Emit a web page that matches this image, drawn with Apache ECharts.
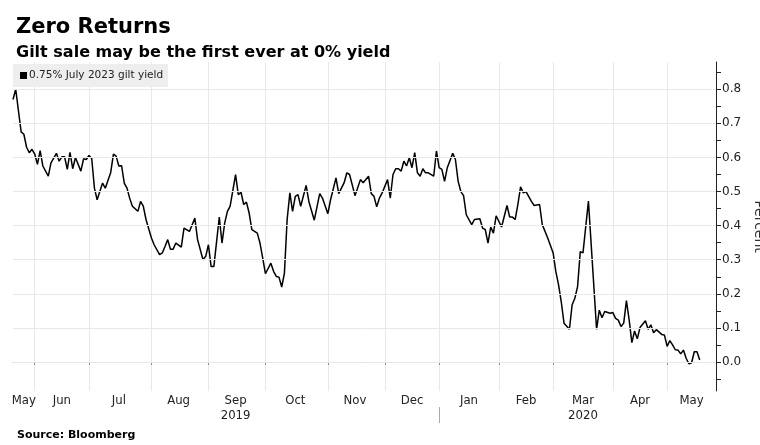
<!DOCTYPE html>
<html><head><meta charset="utf-8">
<script src="https://cdn.jsdelivr.net/npm/echarts@6/dist/echarts.min.js"></script>
<style>html,body{margin:0;padding:0;background:#fff}#c{width:760px;height:445px}</style>
</head><body><div id="c"></div>
<script>
// ---- data ----
const firstDay = '2019-05-21';
const lastDay = '2020-05-29';
const holidays = ['2019-05-27','2019-08-26','2019-12-25','2019-12-26','2020-01-01','2020-04-10','2020-04-13','2020-05-08','2020-05-25'];
const monthNames = ['Jan','Feb','Mar','Apr','May','Jun','Jul','Aug','Sep','Oct','Nov','Dec'];
const yearTexts = ['2019','2020'];
const yearUnderMonth = ['2019-09','2020-03'];
const yLabelValues = [0, 0.1, 0.2, 0.3, 0.4, 0.5, 0.6, 0.7, 0.8];
const yTickValues = [-0.05, 0, 0.05, 0.1, 0.15, 0.2, 0.25, 0.3, 0.35, 0.4, 0.45, 0.5, 0.55, 0.6, 0.65, 0.7, 0.75, 0.8, 0.85];
const seriesName = '0.75% July 2023 gilt yield';
const yieldReadings = [
 ['2019-05-21',0.77],['2019-05-22',0.80],['2019-05-24',0.675],['2019-05-28',0.668],['2019-05-29',0.63],['2019-05-30',0.614],['2019-05-31',0.624],
 ['2019-06-03',0.61],['2019-06-04',0.58],['2019-06-05',0.62],['2019-06-06',0.575],['2019-06-10',0.545],['2019-06-11',0.584],['2019-06-13',0.612],['2019-06-14',0.589],['2019-06-17',0.602],['2019-06-18',0.602],['2019-06-19',0.565],['2019-06-20',0.615],['2019-06-21',0.567],['2019-06-24',0.60],['2019-06-26',0.56],['2019-06-27',0.596],['2019-06-28',0.594],
 ['2019-07-01',0.606],['2019-07-02',0.597],['2019-07-03',0.51],['2019-07-04',0.476],['2019-07-08',0.525],['2019-07-09',0.51],['2019-07-11',0.556],['2019-07-12',0.61],['2019-07-15',0.604],['2019-07-16',0.575],['2019-07-17',0.576],['2019-07-18',0.525],['2019-07-19',0.51],['2019-07-22',0.48],['2019-07-23',0.457],['2019-07-25',0.442],['2019-07-26',0.471],['2019-07-29',0.457],['2019-07-30',0.418],
 ['2019-08-01',0.364],['2019-08-02',0.344],['2019-08-06',0.315],['2019-08-07',0.32],['2019-08-08',0.339],['2019-08-09',0.359],['2019-08-12',0.331],['2019-08-13',0.331],['2019-08-14',0.349],['2019-08-16',0.337],['2019-08-19',0.393],['2019-08-21',0.383],['2019-08-23',0.422],['2019-08-27',0.359],['2019-08-29',0.30],['2019-08-30',0.31],
 ['2019-09-02',0.344],['2019-09-03',0.28],['2019-09-04',0.28],['2019-09-06',0.425],['2019-09-09',0.349],['2019-09-10',0.408],['2019-09-11',0.442],['2019-09-12',0.457],['2019-09-16',0.55],['2019-09-17',0.491],['2019-09-18',0.498],['2019-09-19',0.462],['2019-09-20',0.469],['2019-09-23',0.437],['2019-09-24',0.388],['2019-09-26',0.378],['2019-09-27',0.349],['2019-09-30',0.305],
 ['2019-10-01',0.259],['2019-10-03',0.29],['2019-10-04',0.266],['2019-10-07',0.251],['2019-10-08',0.249],['2019-10-09',0.22],['2019-10-10',0.261],['2019-10-11',0.418],['2019-10-14',0.496],['2019-10-15',0.442],['2019-10-16',0.486],['2019-10-17',0.491],['2019-10-18',0.457],['2019-10-22',0.518],['2019-10-23',0.471],['2019-10-25',0.416],['2019-10-29',0.494],['2019-10-30',0.481],
 ['2019-11-01',0.435],['2019-11-04',0.476],['2019-11-06',0.54],['2019-11-07',0.494],['2019-11-11',0.526],['2019-11-12',0.555],['2019-11-13',0.55],['2019-11-15',0.488],['2019-11-19',0.535],['2019-11-20',0.526],['2019-11-22',0.545],['2019-11-25',0.494],['2019-11-26',0.486],['2019-11-27',0.455],['2019-11-28',0.481],['2019-11-29',0.496],
 ['2019-12-03',0.535],['2019-12-04',0.481],['2019-12-05',0.55],['2019-12-06',0.567],['2019-12-09',0.567],['2019-12-10',0.56],['2019-12-11',0.589],['2019-12-12',0.575],['2019-12-13',0.599],['2019-12-16',0.57],['2019-12-17',0.614],['2019-12-18',0.555],['2019-12-19',0.545],['2019-12-20',0.567],['2019-12-23',0.555],['2019-12-24',0.555],['2019-12-30',0.545],['2019-12-31',0.619],
 ['2020-01-02',0.57],['2020-01-03',0.565],['2020-01-06',0.53],['2020-01-07',0.57],['2020-01-09',0.612],['2020-01-10',0.594],['2020-01-13',0.53],['2020-01-14',0.50],['2020-01-15',0.488],['2020-01-16',0.432],['2020-01-20',0.403],['2020-01-21',0.418],['2020-01-23',0.42],['2020-01-24',0.393],['2020-01-27',0.388],['2020-01-28',0.349],['2020-01-29',0.396],['2020-01-30',0.378],['2020-01-31',0.429],
 ['2020-02-04',0.396],['2020-02-06',0.459],['2020-02-07',0.425],['2020-02-10',0.425],['2020-02-11',0.418],['2020-02-12',0.462],['2020-02-13',0.514],['2020-02-14',0.496],['2020-02-17',0.50],['2020-02-19',0.471],['2020-02-20',0.459],['2020-02-24',0.462],['2020-02-25',0.403],['2020-02-27',0.364],
 ['2020-03-02',0.32],['2020-03-03',0.265],['2020-03-04',0.226],['2020-03-05',0.176],['2020-03-06',0.114],['2020-03-10',0.096],['2020-03-11',0.168],['2020-03-12',0.187],['2020-03-13',0.221],['2020-03-16',0.324],['2020-03-17',0.32],['2020-03-19',0.472],['2020-03-24',0.096],['2020-03-25',0.152],['2020-03-26',0.13],['2020-03-27',0.148],['2020-03-31',0.143],
 ['2020-04-01',0.145],['2020-04-02',0.128],['2020-04-03',0.123],['2020-04-06',0.104],['2020-04-07',0.114],['2020-04-08',0.18],['2020-04-09',0.124],['2020-04-14',0.057],['2020-04-15',0.091],['2020-04-16',0.068],['2020-04-17',0.101],['2020-04-21',0.121],['2020-04-22',0.096],['2020-04-23',0.109],['2020-04-24',0.086],['2020-04-27',0.095],['2020-04-29',0.081],['2020-04-30',0.079],
 ['2020-05-01',0.046],['2020-05-04',0.063],['2020-05-05',0.05],['2020-05-06',0.036],['2020-05-07',0.035],['2020-05-11',0.024],['2020-05-12',0.035],['2020-05-13',0.011],['2020-05-14',-0.005],['2020-05-15',-0.002],['2020-05-18',0.03],['2020-05-19',0.03],['2020-05-20',0.006]
];

// ---- categories: UK trading days ----
function fmt(d){return d.toISOString().slice(0,10);}
const categories = [];
for (let d = new Date(firstDay + 'T00:00:00Z'); fmt(d) <= lastDay; d.setUTCDate(d.getUTCDate()+1)) {
  const wd = d.getUTCDay();
  const s = fmt(d);
  if (wd === 0 || wd === 6 || holidays.indexOf(s) >= 0) continue;
  categories.push(s);
}
const readMap = {};
yieldReadings.forEach(r => { readMap[r[0]] = r[1]; });
const seriesData = categories.map(c => (c in readMap ? readMap[c] : null));

// month bands
const monthStarts = [];
categories.forEach((c, i) => { if (i === 0 || c.slice(0,7) !== categories[i-1].slice(0,7)) monthStarts.push(i); });
const tickSet = new Set(monthStarts.filter(i => i > 0));
const labelIdx = {};
monthStarts.forEach((s, k) => {
  const e = k + 1 < monthStarts.length ? monthStarts[k+1] : categories.length;
  labelIdx[Math.floor((s + e) / 2)] = categories[s].slice(0,7);
});
const yearIdx = {};
Object.keys(labelIdx).forEach(i => { const p = yearUnderMonth.indexOf(labelIdx[i]); if (p >= 0) yearIdx[i] = yearTexts[p]; });
const yearSepIdx = categories.findIndex((c, i) => i > 0 && c.slice(0,4) !== categories[i-1].slice(0,4));

const narrow = '"Liberation Sans Narrow","DejaVu Sans Condensed",sans-serif';
const chart = echarts.init(document.getElementById('c'), null, {renderer: 'canvas'});
chart.setOption({
  animation: false,
  backgroundColor: '#fff',
  title: [
    {text: 'Zero Returns', left: 11, top: 12, textStyle: {fontFamily: 'DejaVu Sans', fontWeight: 'bold', fontSize: 21, color: '#000'}},
    {text: 'Gilt sale may be the first ever at 0% yield', left: 11, top: 40, textStyle: {fontFamily: 'DejaVu Sans', fontWeight: 'bold', fontSize: 16, color: '#000'}},
    {text: 'Source: Bloomberg', left: 12, top: 425, textStyle: {fontFamily: 'DejaVu Sans', fontWeight: 'bold', fontSize: 11, color: '#000'}}
  ],
  legend: {
    data: [seriesName], left: 13, top: 64, icon: 'rect', itemWidth: 7, itemHeight: 7, itemGap: 0,
    backgroundColor: '#eeeeee', padding: [6, 5, 6, 7],
    textStyle: {fontFamily: 'DejaVu Sans', fontSize: 10.5, color: '#222', padding: [0, 0, 0, -3]}
  },
  grid: {left: 13, right: 44, top: 62, bottom: 54, containLabel: false, outerBoundsMode: 'none'},
  xAxis: [
    {
      type: 'category', data: categories, boundaryGap: false, position: 'bottom',
      axisLine: {show: true, lineStyle: {color: '#8c8c8c', width: 1}},
      axisTick: {show: true, length: 3, interval: (i) => tickSet.has(i), lineStyle: {color: '#8c8c8c'}},
      axisLabel: {interval: (i) => (i in labelIdx), formatter: (v) => monthNames[parseInt(v.slice(5,7), 10) - 1],
        margin: 3, fontFamily: narrow, fontSize: 13, color: '#222'},
      splitLine: {show: true, interval: (i) => tickSet.has(i), lineStyle: {color: '#e8e8e8', width: 1}}
    },
    {
      type: 'category', data: categories, boundaryGap: false, position: 'bottom', offset: 16,
      axisLine: {show: false},
      axisTick: {show: true, length: 16, interval: (i) => i === yearSepIdx, lineStyle: {color: '#aaaaaa'}},
      axisLabel: {interval: (i) => (i in yearIdx), formatter: (v, i) => yearIdx[i] || '', margin: 2, fontFamily: narrow, fontSize: 13, color: '#222'},
      splitLine: {show: false}
    }
  ],
  yAxis: {
    type: 'value', position: 'right', min: -0.085, max: 0.88,
    axisLine: {show: true, lineStyle: {color: '#222'}},
    axisTick: {show: true, length: 5, customValues: yTickValues, lineStyle: {color: '#222'}},
    axisLabel: {customValues: yLabelValues, formatter: (v) => v.toFixed(1), margin: 6, fontFamily: 'DejaVu Sans', fontSize: 12, color: '#222'},
    splitLine: {show: false},
    name: 'Percent', nameLocation: 'middle', nameRotate: -90, nameGap: 35,
    nameTextStyle: {fontFamily: 'DejaVu Sans', fontSize: 14, color: '#333'}
  },
  series: [
    {
      name: 'grid', type: 'line', data: [], z: 1, silent: true,
      markLine: {silent: true, symbol: ['none', 'none'], label: {show: false}, animation: false,
        lineStyle: {color: '#e8e8e8', width: 1, type: 'solid'},
        data: yLabelValues.map(v => ({yAxis: v}))}
    },
    {
      name: seriesName, type: 'line', data: seriesData, connectNulls: true, showSymbol: false, z: 3,
      lineStyle: {color: '#000', width: 1.5}, itemStyle: {color: '#000'}
    }
  ]
});
</script></body></html>
